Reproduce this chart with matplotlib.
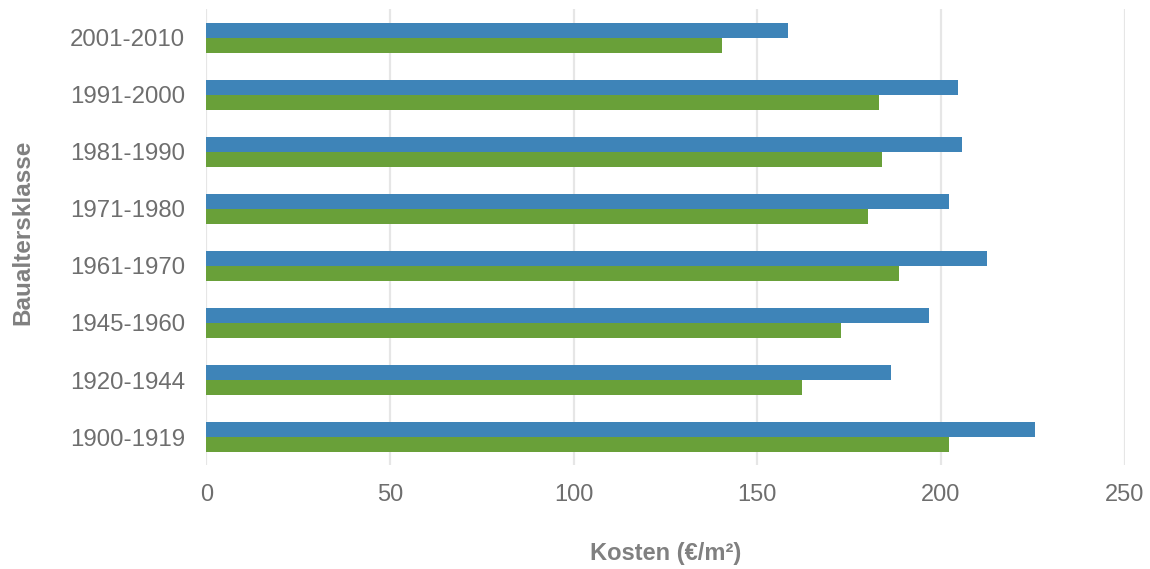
import matplotlib

matplotlib.use("Agg")
import matplotlib.pyplot as plt
import numpy as np

# Baualtersklassen, bottom to top as drawn
classes = [
    "1900-1919",
    "1920-1944",
    "1945-1960",
    "1961-1970",
    "1971-1980",
    "1981-1990",
    "1991-2000",
    "2001-2010",
]
blue_values = [225.6, 186.5, 196.6, 212.4, 202.2, 205.6, 204.7, 158.4]
green_values = [202.2, 162.2, 172.7, 188.6, 180.1, 183.9, 183.2, 140.3]
x_ticks = [0, 50, 100, 150, 200, 250]

BLUE = "#3e84b8"
GREEN = "#69a039"
TICK_GREY = "#6e6e6e"
LABEL_GREY = "#808080"
GRID_GREY = "#e6e6e6"

plt.rcParams["font.family"] = ["Liberation Sans", "DejaVu Sans"]

fig = plt.figure(figsize=(11.5, 5.69), dpi=100)
ax = fig.add_axes([0.1793, 0.1828, 0.7987, 0.8009])

y = np.arange(len(classes))
h = 0.263
ax.barh(y + h / 2, blue_values, height=h, color=BLUE, zorder=3)
ax.barh(y - h / 2, green_values, height=h, color=GREEN, zorder=3)

ax.set_xlim(0, 250)
ax.set_ylim(-0.49, 7.5)
ax.set_xticks(x_ticks)
ax.set_yticks(y)
ax.set_yticklabels(classes)

ax.grid(axis="x", color=GRID_GREY, linewidth=1.6, zorder=0)
ax.grid(axis="y", visible=False)
for spine in ax.spines.values():
    spine.set_visible(False)
ax.tick_params(axis="both", length=0, colors=TICK_GREY)
ax.tick_params(axis="y", pad=15, labelsize=17.3)
ax.tick_params(axis="x", pad=13.5, labelsize=17)

ax.set_xlabel("Kosten (€/m²)", fontsize=17, fontweight="bold", color=LABEL_GREY, labelpad=26)
ax.set_ylabel("Baualtersklasse", fontsize=17.5, fontweight="bold", color=LABEL_GREY, labelpad=26)
ax.yaxis.label.set_y(0.51)

fig.savefig("out.png", dpi=100)
